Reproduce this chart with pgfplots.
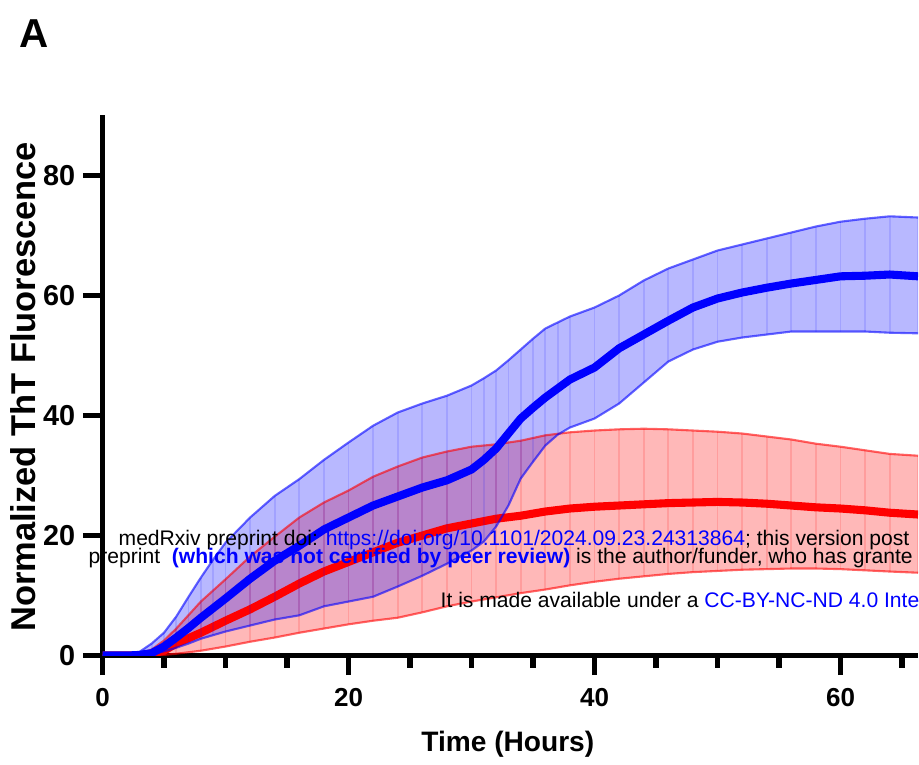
\documentclass[border=0pt]{standalone}
\usepackage{fontspec}
\setmainfont{Liberation Sans}
\usepackage{pgfplots}
\usepackage{pgfplotstable}
\pgfplotsset{compat=1.18}
\usepgfplotslibrary{fillbetween}

% columns: time, mean, upper, lower
\pgfplotstableread{
x    m     u     l
0    0     0     0
2    0     0.1   0
3    0.1   0.6   0
4    0.4   2     0.2
5    1.5   3.8   0.7
6    3     6.5   1.3
7    4.6   9.8   2
8    6.3   13    2.8
9    7.9   16    3.4
10   9.5   18.8  4
12   12.8  23    5
14   15.8  26.6  6
16   18.3  29.4  6.7
18   21    32.6  8.2
20   23    35.5  9
22   25    38.3  9.8
24   26.5  40.5  11.5
26   28    42    13.3
28   29.2  43.3  15.3
30   31    45    17.5
31   32.6  46.2  19
32   34.5  47.5  21.5
33   37    49.2  25
34   39.5  51    29.5
35   41.3  52.8  32.3
36   43    54.5  35
37   44.5  55.5  36.8
38   46    56.5  38
40   48    58    39.5
42   51.2  60    42
44   53.5  62.5  45.5
46   55.8  64.5  49
48   58    66    51
50   59.5  67.5  52.3
52   60.5  68.5  53
54   61.3  69.5  53.5
56   62    70.5  54
58   62.6  71.5  54
60   63.2  72.3  54
62   63.3  72.8  54
64   63.5  73.2  53.8
66.3 63.2  73    53.7
}\bluedata

\pgfplotstableread{
x    m     u     l
0    0     0     0
3    0     0.3   0
4    0.3   1     0
5    0.8   2.5   0.1
6    2     4.5   0.3
8    3.8   9     0.8
10   5.8   12.7  1.5
12   7.7   16.5  2.3
14   9.8   19.8  3
16   12    23    3.8
18   14    25.5  4.5
20   15.6  27.5  5.2
22   17.2  29.8  5.8
24   18.8  31.5  6.3
26   20    33    7.2
28   21.2  34    8.2
30   22    34.8  9
32   22.8  35.2  9.7
34   23.3  35.8  10.4
36   24    36.7  11
38   24.5  37.2  11.7
40   24.8  37.5  12.3
42   25    37.7  12.8
44   25.2  37.8  13.2
46   25.4  37.7  13.6
48   25.5  37.5  13.9
50   25.6  37.3  14.1
52   25.5  37    14.3
54   25.3  36.5  14.4
56   25    36    14.5
58   24.7  35.3  14.5
60   24.5  34.8  14.4
62   24.2  34.2  14.2
64   23.8  33.6  14.0
66.3 23.5  33.3  13.8
}\reddata

\begin{document}
\begin{tikzpicture}

\node[anchor=base west, font=\fontsize{11.5}{12}\selectfont\bfseries, inner sep=0pt] at (0.19,-0.47) {A};

\begin{axis}[
    at={(1.025cm,-6.555cm)}, anchor=south west,
    scale only axis, width=8.155cm, height=5.406cm,
    xmin=0, xmax=66.3, ymin=0, ymax=90.1,
    axis x line*=bottom, axis y line*=left,
    axis line style={line width=1.5pt, black},
    xtick={0,20,40,60}, minor xtick={5,10,15,25,30,35,45,50,55,65},
    ytick={0,20,40,60,80},
    tick align=outside,
    major tick length=0.195cm, minor tick length=0.12cm,
    every tick/.style={line width=1.5pt, black},
    /pgf/number format/assume math mode=true,
    xticklabel style={font=\fontsize{7.4}{8}\selectfont\bfseries, yshift=-0.01cm},
    yticklabel style={font=\fontsize{8.2}{9}\selectfont\bfseries, xshift=0.045cm},
    xlabel={Time (Hours)},
    ylabel={Normalized ThT Fluorescence},
    xlabel style={font=\fontsize{8}{9}\selectfont\bfseries,
        at={(axis description cs:0.497,-0.1775)}, anchor=base},
    ylabel style={font=\fontsize{9.8}{11}\selectfont\bfseries,
        at={(axis description cs:-0.0822,0.497)}, anchor=base, rotate=0},
]
% red band
\addplot[name path=ru, draw=red, draw opacity=0.6, line width=0.6pt] table[x=x, y=u] {\reddata};
\addplot[name path=rl, draw=red, draw opacity=0.6, line width=0.6pt] table[x=x, y=l] {\reddata};
\addplot[fill=red, fill opacity=0.28, draw=none] fill between[of=ru and rl];
\addplot[draw=none, forget plot, error bars/.cd, y dir=both, y explicit,
    error mark=none, error bar style={red, opacity=0.15, line width=0.5pt}]
    table[x=x, y=m, y error plus expr=\thisrow{u}-\thisrow{m}, y error minus expr=\thisrow{m}-\thisrow{l}] {\reddata};
\addplot[red, line width=2.3pt] table[x=x, y=m] {\reddata};
% blue band
\addplot[name path=bu, draw=blue, draw opacity=0.6, line width=0.6pt] table[x=x, y=u] {\bluedata};
\addplot[name path=bl, draw=blue, draw opacity=0.6, line width=0.6pt] table[x=x, y=l] {\bluedata};
\addplot[fill=blue, fill opacity=0.28, draw=none] fill between[of=bu and bl];
\addplot[draw=none, forget plot, error bars/.cd, y dir=both, y explicit,
    error mark=none, error bar style={blue, opacity=0.12, line width=0.5pt}]
    table[x=x, y=m, y error plus expr=\thisrow{u}-\thisrow{m}, y error minus expr=\thisrow{m}-\thisrow{l}] {\bluedata};
\addplot[blue, line width=2.3pt] table[x=x, y=m] {\bluedata};
\end{axis}

% medRxiv watermark (cut at the right edge as in the source)
\begin{scope}
\clip (0,0) rectangle (9.19,-7.64);
\begin{scope}[every node/.style={anchor=base west, inner sep=0pt, font=\fontsize{6.0}{7}\selectfont}]
\node at (1.18,-5.45) {medRxiv preprint doi: \textcolor{blue}{https://doi.org/10.1101/2024.09.23.24313864}; this version post};
\node at (0.88,-5.63) {preprint \ \textcolor{blue}{\bfseries (which was not certified by peer review)} is the author/funder, who has grante};
\node at (4.40,-6.07) {It is made available under a \textcolor{blue}{CC-BY-NC-ND 4.0 Inte}};
\end{scope}
\end{scope}

\pgfresetboundingbox
\useasboundingbox (0,0) rectangle (9.19,-7.64);
\end{tikzpicture}
\end{document}
